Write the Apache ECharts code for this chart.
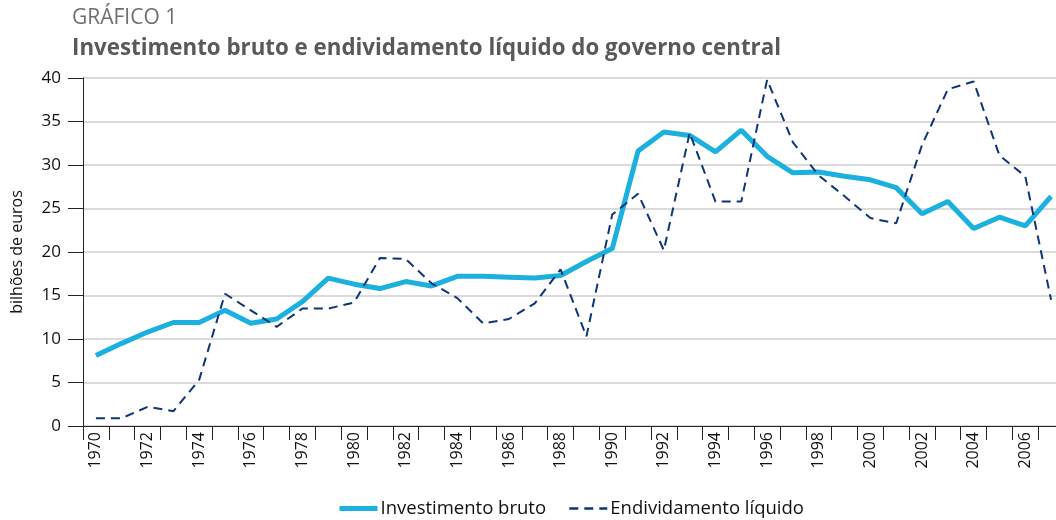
<!DOCTYPE html>
<html>
<head>
<meta charset="utf-8">
<script src="https://cdn.jsdelivr.net/npm/echarts@6/dist/echarts.min.js"></script>
<style>
  html, body { margin: 0; padding: 0; background: #fff; }
  #chart { width: 1056px; height: 520px; }
</style>
</head>
<body>
<div id="chart"></div>
<script>
const years = []
for (let y = 1970; y <= 2007; y++) years.push(String(y))

// bilhões de euros
const investimentoBruto = [
  8.1, 9.5, 10.8, 11.9, 11.9, 13.3, 11.8, 12.3, 14.3, 17.0,
  16.3, 15.8, 16.6, 16.1, 17.2, 17.2, 17.1, 17.0, 17.3, 18.9,
  20.4, 31.6, 33.8, 33.4, 31.5, 34.0, 31.0, 29.1, 29.2, 28.7,
  28.3, 27.4, 24.4, 25.8, 22.7, 24.0, 23.0, 26.4
]
const endividamentoLiquido = [
  0.9, 0.9, 2.2, 1.7, 5.3, 15.2, 13.3, 11.4, 13.5, 13.5,
  14.2, 19.3, 19.2, 16.4, 14.7, 11.8, 12.3, 14.1, 18.0, 10.3,
  24.3, 26.7, 20.2, 33.7, 25.8, 25.8, 39.8, 32.6, 28.8, 26.4,
  23.9, 23.3, 32.3, 38.7, 39.6, 31.1, 28.7, 14.5
]

const font = "'Open Sans', 'Noto Sans', sans-serif"
const azulClaro = '#1bb0de'
const azulEscuro = '#0e3577'

const chart = echarts.init(document.getElementById('chart'))
chart.setOption({
  animation: false,
  textStyle: { fontFamily: font },
  title: [
    {
      text: 'GRÁFICO 1',
      left: 67, top: 3,
      textStyle: { fontFamily: font, fontSize: 21, fontWeight: 'normal', color: '#6d6e70' }
    },
    {
      text: 'Investimento bruto e endividamento líquido do governo central',
      left: 67, top: 33,
      textStyle: { fontFamily: font, fontSize: 22.3, fontWeight: 'bold', color: '#58595b' }
    }
  ],
  legend: {
    bottom: -3,
    left: 332,
    itemWidth: 38,
    itemHeight: 10,
    itemGap: 22,
    itemStyle: { opacity: 0 },
    textStyle: { fontFamily: font, fontSize: 18.5, color: '#111', padding: [0, 0, 0, -2] },
    data: [
      { name: 'Investimento bruto', lineStyle: { width: 5 } },
      { name: 'Endividamento líquido', lineStyle: { width: 2.5 } }
    ]
  },
  grid: { left: 83, right: -8, top: 78, bottom: 94, outerBoundsMode: 'none' },
  xAxis: {
    type: 'category',
    data: years,
    boundaryGap: true,
    axisLine: { lineStyle: { color: '#222', width: 1 } },
    axisTick: { show: true, interval: 0, length: 14, lineStyle: { color: '#222' } },
    axisLabel: { rotate: 90, interval: 1, fontSize: 16, color: '#111', margin: 6, fontFamily: font }
  },
  yAxis: {
    type: 'value',
    min: 0, max: 40, interval: 5,
    name: 'bilhões de euros',
    nameLocation: 'middle',
    nameGap: 58,
    nameTextStyle: { fontSize: 16, color: '#111', fontFamily: font },
    axisLine: { show: true, lineStyle: { color: '#222' } },
    axisTick: { show: true, length: 15, lineStyle: { color: '#222' } },
    axisLabel: { fontSize: 17, color: '#111', margin: 22, fontFamily: font },
    splitLine: { lineStyle: { color: '#cfcfcf', width: 1.5 } }
  },
  series: [
    {
      name: 'Investimento bruto',
      type: 'line',
      data: investimentoBruto,
      showSymbol: false,
      symbol: 'none',
      lineStyle: { color: azulClaro, width: 5 },
      itemStyle: { color: azulClaro }
    },
    {
      name: 'Endividamento líquido',
      type: 'line',
      data: endividamentoLiquido,
      showSymbol: false,
      symbol: 'none',
      lineStyle: { color: azulEscuro, width: 2, type: [9, 6] },
      itemStyle: { color: azulEscuro }
    }
  ]
})
</script>
</body>
</html>
